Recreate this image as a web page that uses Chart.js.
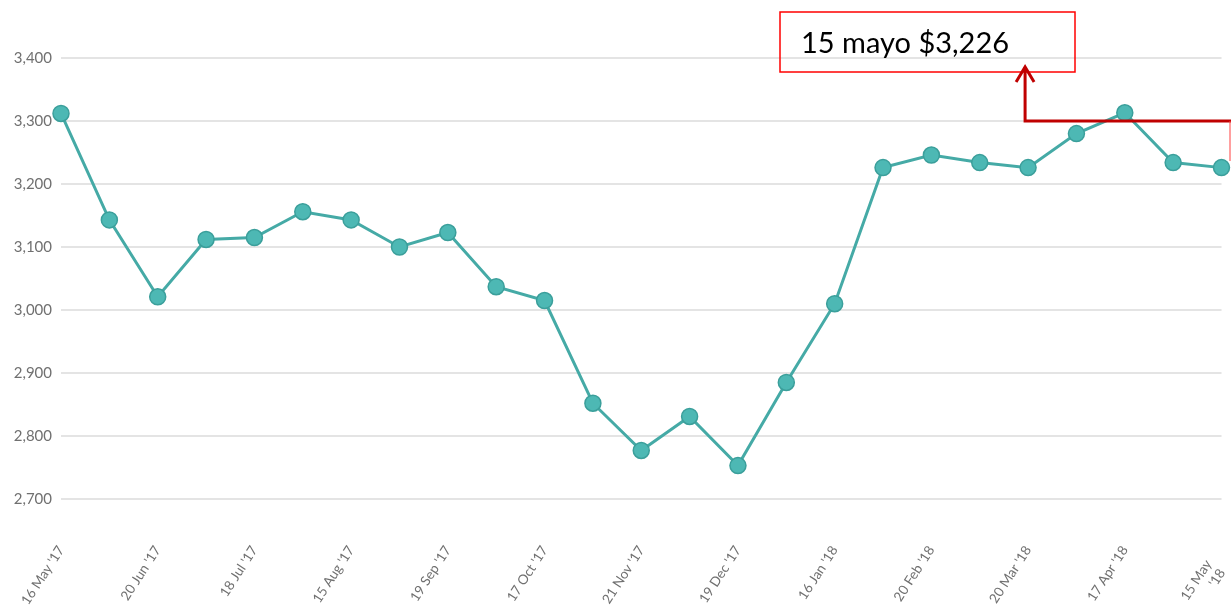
<!DOCTYPE html>
<html>
<head>
<meta charset="utf-8">
<script src="https://cdn.jsdelivr.net/npm/chart.js@4"></script>
<style>
  html, body { margin: 0; padding: 0; background: #fff; }
  #wrap { width: 1231px; height: 608px; position: relative; }
</style>
</head>
<body>
<div id="wrap"><canvas id="myChart"></canvas></div>
<script>
// etiquetas visibles del eje x (una cada dos puntos)
const tickLabels = ["16 May '17", "20 Jun '17", "18 Jul '17", "15 Aug '17", "19 Sep '17", "17 Oct '17",
  "21 Nov '17", "19 Dec '17", "16 Jan '18", "20 Feb '18", "20 Mar '18", "17 Apr '18", ["15 May", "'18"]];

// precios (25 puntos)
const prices = [3312, 3143, 3021, 3112, 3115, 3156, 3143, 3100, 3123, 3037, 3015, 2852, 2777,
  2831, 2753, 2885, 3010, 3226, 3246, 3234, 3226, 3280, 3313, 3234, 3226];

const annotationText = '15 mayo $3,226';

const labels = prices.map((v, i) => (i % 2 === 0 ? tickLabels[i / 2] : ''));

// la ultima etiqueta (dos lineas) se mueve un poco para que no se corte
const lastLabelPlugin = {
  id: 'lastLabel',
  beforeDraw(chart) {
    const items = chart.scales.x.getLabelItems(chart.chartArea);
    const last = items[items.length - 1];
    if (last && !last._moved) {
      last.options.translation = [last.options.translation[0] - 13, last.options.translation[1] + 14];
      last._moved = true;
    }
  }
};

// dibuja el recuadro y la flecha roja
const calloutPlugin = {
  id: 'callout',
  afterDraw(chart) {
    const ctx = chart.ctx;
    const x = chart.scales.x;
    const y = chart.scales.y;
    const ax = x.getPixelForValue(20) - 3;
    const ay = y.getPixelForValue(3300);
    ctx.save();
    // recuadro
    ctx.strokeStyle = '#ff0000';
    ctx.lineWidth = 1.5;
    ctx.strokeRect(780, 12, 295, 60);
    ctx.fillStyle = '#000';
    ctx.font = '29px Lato';
    ctx.textBaseline = 'middle';
    ctx.fillText(annotationText, 801, 44);
    // flecha
    ctx.strokeStyle = '#c00000';
    ctx.lineWidth = 3;
    ctx.beginPath();
    ctx.moveTo(chart.width, ay);
    ctx.lineTo(ax, ay);
    ctx.lineTo(ax, 67);
    ctx.stroke();
    ctx.beginPath();
    ctx.moveTo(ax - 9, 82);
    ctx.lineTo(ax, 67);
    ctx.lineTo(ax + 9, 82);
    ctx.stroke();
    ctx.strokeStyle = '#ff4040';
    ctx.lineWidth = 1;
    ctx.beginPath();
    ctx.moveTo(chart.width - 1, ay);
    ctx.lineTo(chart.width - 1, ay + 40);
    ctx.stroke();
    ctx.restore();
  }
};

const ctx = document.getElementById('myChart').getContext('2d');
new Chart(ctx, {
  type: 'line',
  data: {
    labels: labels,
    datasets: [{
      data: prices,
      borderColor: '#45aaa6',
      borderWidth: 3,
      backgroundColor: '#4db8b4',
      pointBackgroundColor: '#4db8b4',
      pointBorderColor: '#3b9f9b',
      pointBorderWidth: 1.5,
      pointRadius: 8,
      tension: 0,
      clip: false
    }]
  },
  options: {
    responsive: true,
    maintainAspectRatio: false,
    animation: false,
    layout: { padding: { top: 58, right: 2, left: 0, bottom: 0 } },
    plugins: { legend: { display: false }, tooltip: { enabled: false } },
    scales: {
      x: {
        offset: false,
        grid: { display: false, drawTicks: false },
        border: { display: false },
        afterFit: s => { s.paddingRight = 0; s.paddingLeft = 61; s.height = 109; },
        ticks: {
          autoSkip: false,
          maxRotation: 57,
          minRotation: 57,
          padding: 44,
          color: '#707070',
          font: { family: 'Lato', size: 13.5 }
        }
      },
      y: {
        min: 2700,
        max: 3400,
        grid: { color: '#e4e4e4', lineWidth: 2, drawTicks: false },
        border: { display: false },
        ticks: {
          stepSize: 100,
          padding: 9,
          color: '#707070',
          font: { family: 'Lato', size: 15 },
          callback: v => v.toLocaleString('en-US')
        }
      }
    }
  },
  plugins: [lastLabelPlugin, calloutPlugin]
});
</script>
</body>
</html>
